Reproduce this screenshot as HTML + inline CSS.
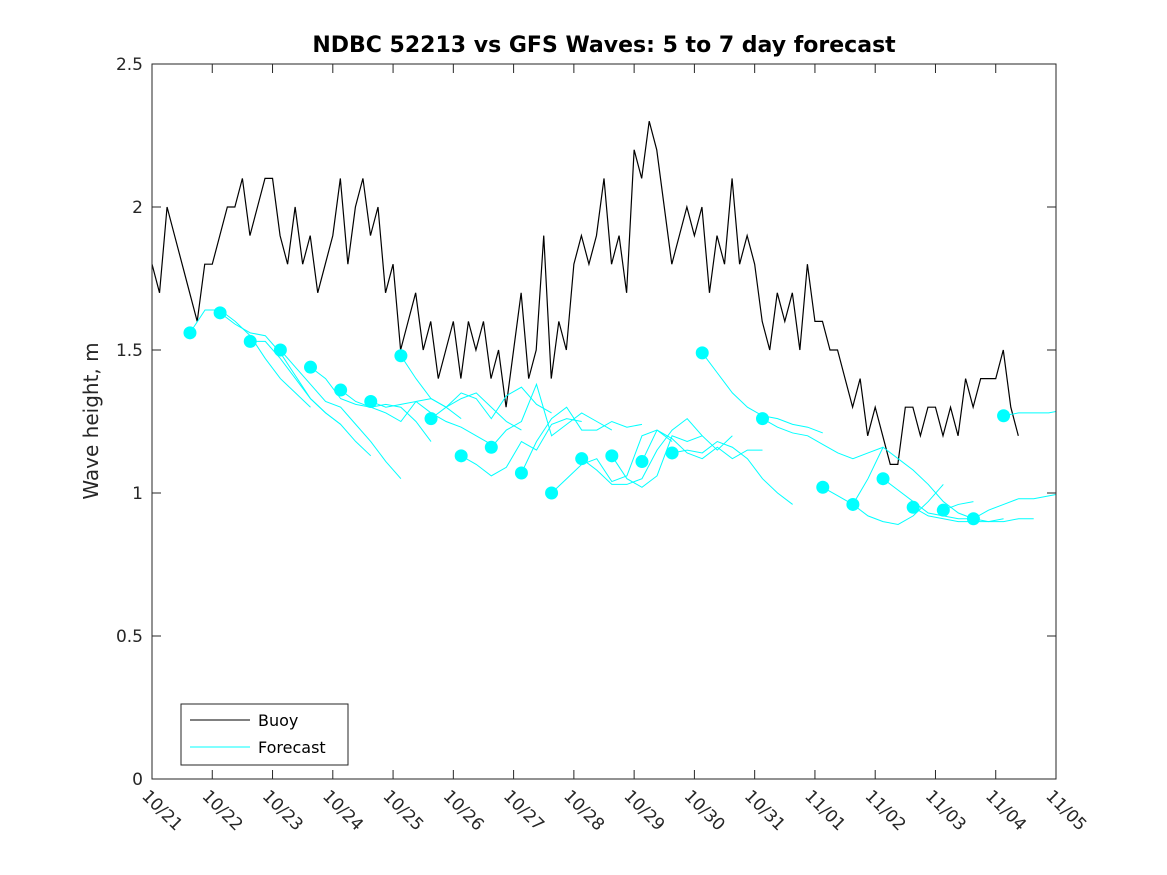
<!DOCTYPE html>
<html><head><meta charset="utf-8"><style>
body{margin:0;background:#fff;}
svg{display:block;font-family:"DejaVu Sans","Liberation Sans",sans-serif;}
</style></head><body>
<svg id="chart" width="1167" height="875" viewBox="0 0 1167 875">
<rect width="1167" height="875" fill="#fff"/>
<defs><clipPath id="pc"><rect x="152" y="64" width="904" height="715"/></clipPath></defs>
<text x="604" y="52" text-anchor="middle" font-size="22" font-weight="bold" fill="#000">NDBC 52213 vs GFS Waves: 5 to 7 day forecast</text>
<text transform="translate(98,421) rotate(-90)" text-anchor="middle" font-size="20" fill="#262626">Wave height, m</text>
<g id="axes"></g>
<g id="series" clip-path="url(#pc)"></g>
<rect x="152" y="64" width="904" height="715" fill="none" stroke="#262626" stroke-width="1"/>
<g>
<rect x="181" y="704" width="167" height="61" fill="#fff" stroke="#262626"/>
<line x1="190" y1="720" x2="250" y2="720" stroke="#000"/>
<text x="258" y="726" font-size="16" fill="#000">Buoy</text>
<line x1="190" y1="747" x2="250" y2="747" stroke="#00ffff"/>
<text x="258" y="753" font-size="16" fill="#000">Forecast</text>
</g>
</svg>
<script>
const xTickLabels=["10/21","10/22","10/23","10/24","10/25","10/26","10/27","10/28","10/29","10/30","10/31","11/01","11/02","11/03","11/04","11/05"];
const yTicks=[0,0.5,1,1.5,2,2.5];
const yTickLabels=["0","0.5","1","1.5","2","2.5"];
// buoy: values every 1/8 day from 10/21 00:00
const buoyStep=0.125;
const buoy=[1.8,1.7,2.0,1.9,1.8,1.7,1.6,1.8,
1.8,1.9,2.0,2.0,2.1,1.9,2.0,2.1,
2.1,1.9,1.8,2.0,1.8,1.9,1.7,1.8,
1.9,2.1,1.8,2.0,2.1,1.9,2.0,1.7,
1.8,1.5,1.6,1.7,1.5,1.6,1.4,1.5,
1.6,1.4,1.6,1.5,1.6,1.4,1.5,1.3,
1.5,1.7,1.4,1.5,1.9,1.4,1.6,1.5,
1.8,1.9,1.8,1.9,2.1,1.8,1.9,1.7,
2.2,2.1,2.3,2.2,2.0,1.8,1.9,2.0,
1.9,2.0,1.7,1.9,1.8,2.1,1.8,1.9,
1.8,1.6,1.5,1.7,1.6,1.7,1.5,1.8,
1.6,1.6,1.5,1.5,1.4,1.3,1.4,1.2,
1.3,1.2,1.1,1.1,1.3,1.3,1.2,1.3,
1.3,1.2,1.3,1.2,1.4,1.3,1.4,1.4,
1.4,1.5,1.3,1.2];
// forecast starts (days since 10/21) and values every 6 h
const fcStep=0.25;
const fcStart=[0.63,1.13,1.63,2.13,2.63,3.13,3.63,4.13,4.63,5.13,5.63,6.13,6.63,7.13,7.63,8.13,8.63,9.13,10.13,11.13,11.63,12.13,12.63,13.13,13.63,14.13];
const fcValues=[
[1.56,1.64,1.64,1.60,1.55,1.47,1.40,1.35,1.30],
[1.63,1.59,1.56,1.55,1.49,1.41,1.33,1.28,1.24],
[1.53,1.53,1.47,1.40,1.33,1.28,1.24,1.18,1.13],
[1.50,1.44,1.38,1.32,1.30,1.24,1.18,1.11,1.05],
[1.44,1.40,1.33,1.31,1.30,1.31,1.30,1.25,1.18],
[1.36,1.32,1.30,1.28,1.25,1.32,1.33,1.30,1.26],
[1.32,1.30,1.31,1.32,1.28,1.25,1.23,1.20,1.17],
[1.48,1.40,1.33,1.30,1.33,1.35,1.30,1.25,1.22],
[1.26,1.30,1.35,1.33,1.26,1.34,1.37,1.31,1.28],
[1.13,1.10,1.06,1.09,1.18,1.15,1.24,1.26,1.25],
[1.16,1.22,1.25,1.38,1.20,1.24,1.28,1.25,1.22],
[1.07,1.18,1.26,1.30,1.22,1.22,1.25,1.23,1.24],
[1.00,1.05,1.10,1.12,1.04,1.06,1.20,1.22,1.18],
[1.12,1.08,1.03,1.03,1.05,1.15,1.22,1.26,1.20],
[1.13,1.05,1.02,1.06,1.20,1.18,1.20,1.15,1.20],
[1.11,1.22,1.19,1.14,1.12,1.16,1.12,1.15,1.15],
[1.14,1.15,1.14,1.18,1.16,1.12,1.05,1.00,0.96],
[1.49,1.42,1.35,1.30,1.27,1.26,1.24,1.23,1.21],
[1.26,1.23,1.21,1.20,1.17,1.14,1.12,1.14,1.16],
[1.02,0.99,0.96,0.92,0.90,0.89,0.92,0.97,1.03],
[0.96,1.05,1.16,1.12,1.08,1.03,0.97,0.93,0.91],
[1.05,1.01,0.97,0.93,0.92,0.91,0.91,0.90,0.91],
[0.95,0.92,0.91,0.90,0.90,0.90,0.90,0.91,0.91],
[0.94,0.96,0.97],
[0.91,0.94,0.96,0.98,0.98,0.99,1.00,1.02,1.03],
[1.27,1.28,1.28,1.28,1.29,1.30]];

const X0=152,X1=1056,Y0=779,Y1=64;
const xs=d=>X0+(X1-X0)*d/15;
const ys=v=>Y0-(Y0-Y1)*v/2.5;
const NS="http://www.w3.org/2000/svg";
function mk(t,a,p){const e=document.createElementNS(NS,t);for(const k in a)e.setAttribute(k,a[k]);p.appendChild(e);return e;}
const axes=document.getElementById('axes'),series=document.getElementById('series');
xTickLabels.forEach((lab,i)=>{
  const x=xs(i);
  const t=mk('line',{x1:x,y1:Y0,x2:x,y2:Y0-9,stroke:'#262626'},axes);
  
  
  const t2=mk('line',{x1:x,y1:Y1,x2:x,y2:Y1+9,stroke:'#262626'},axes);
  
  
  const tx=mk('text',{x:0,y:0,transform:`translate(${x-11},${Y0+18}) rotate(45)`,'font-size':17,fill:'#262626'},axes);
  tx.textContent=lab;
  
  
});
yTicks.forEach((v,i)=>{
  const y=ys(v);
  const t=mk('line',{x1:X0,y1:y,x2:X0+9,y2:y,stroke:'#262626'},axes);
  
  
  const t2=mk('line',{x1:X1,y1:y,x2:X1-9,y2:y,stroke:'#262626'},axes);
  
  
  const tx=mk('text',{x:X0-9,y:y+6,'text-anchor':'end','font-size':17,fill:'#262626'},axes);
  tx.textContent=yTickLabels[i];
  
  
});
const bl=mk('polyline',{points:buoy.map((v,i)=>xs(i*buoyStep)+','+ys(v)).join(' '),fill:'none',stroke:'#000','stroke-width':1.2},series);


fcValues.forEach((vals,k)=>{
  const s=fcStart[k];
  const pl=mk('polyline',{points:vals.map((v,i)=>xs(s+i*fcStep)+','+ys(v)).join(' '),fill:'none',stroke:'#00ffff','stroke-width':1},series);
  
  
});
fcValues.forEach((vals,k)=>{
  const c=mk('circle',{cx:xs(fcStart[k]),cy:ys(vals[0]),r:6.5,fill:'#00ffff'},series);
  
  
});
</script>
</body></html>
